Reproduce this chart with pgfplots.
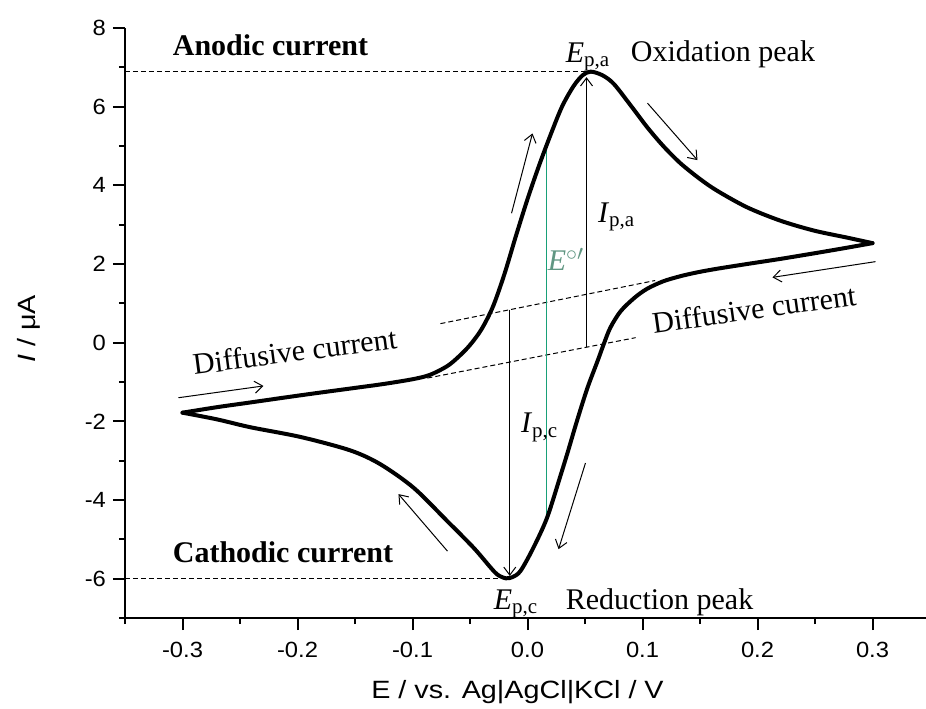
\documentclass[border=0pt]{standalone}
\usepackage{fontspec}
\setmainfont{Liberation Serif}
\newfontfamily\axsans[FakeStretch=1.15]{Liberation Sans}
\newfontfamily\ticksans[FakeStretch=1.08]{Liberation Sans}
\usepackage{pgfplots}
\pgfplotsset{compat=1.18}
\usepackage{pgfplotstable}
\usetikzlibrary{arrows.meta}

\definecolor{eogreen}{RGB}{24,160,120}
\definecolor{eotext}{RGB}{96,150,130}

\newcommand{\ann}{\fontsize{15}{18}\selectfont}
\tikzset{arr/.style={line width=0.5pt, -{Straight Barb[length=4pt,width=6pt]}}}

% forward (anodic) scan, -0.3 V -> +0.3 V
\pgfplotstableread{
E I
-0.300 -1.78
-0.270 -1.64
-0.241 -1.52
-0.210 -1.39
-0.183 -1.28
-0.150 -1.15
-0.125 -1.05
-0.100 -0.93
-0.085 -0.82
-0.070 -0.60
-0.060 -0.36
-0.050 -0.06
-0.040 0.34
-0.030 0.92
-0.020 1.75
-0.010 2.72
0.000 3.65
0.010 4.50
0.020 5.28
0.030 6.00
0.040 6.52
0.048 6.80
0.055 6.89
0.065 6.80
0.075 6.58
0.090 6.02
0.104 5.48
0.118 5.00
0.133 4.56
0.150 4.16
0.165 3.86
0.191 3.44
0.220 3.10
0.249 2.85
0.278 2.67
0.300 2.53
}\forwardscan

% reverse (cathodic) scan, +0.3 V -> -0.3 V
\pgfplotstableread{
E I
0.300 2.53
0.275 2.40
0.249 2.27
0.220 2.13
0.191 2.00
0.165 1.88
0.148 1.79
0.133 1.69
0.118 1.56
0.104 1.37
0.093 1.14
0.081 0.80
0.072 0.38
0.066 -0.06
0.061 -0.46
0.052 -1.16
0.043 -1.99
0.035 -2.78
0.029 -3.35
0.017 -4.45
0.005 -5.22
-0.006 -5.80
-0.013 -5.96
-0.019 -5.99
-0.026 -5.90
-0.032 -5.72
-0.047 -5.21
-0.070 -4.53
-0.099 -3.69
-0.128 -3.09
-0.154 -2.74
-0.197 -2.40
-0.241 -2.15
-0.270 -1.95
-0.300 -1.78
}\reversescan

\begin{document}
\begin{tikzpicture}
\begin{axis}[
  scale only axis,
  width=400.5pt, height=295pt,
  xmin=-0.35, xmax=0.3465,
  ymin=-7, ymax=8,
  axis lines*=left,
  axis line style={-, line width=1.1pt},
  tick align=outside,
  major tick length=6pt,
  minor tick length=3pt,
  every tick/.style={black, line width=1pt},
  xtick={-0.3,-0.2,-0.1,0,0.1,0.2,0.3},
  xticklabels={-0.3,-0.2,-0.1,0.0,0.1,0.2,0.3},
  minor xtick={-0.35,-0.25,-0.15,-0.05,0.05,0.15,0.25},
  ytick={-6,-4,-2,0,2,4,6,8},
  yticklabels={-6,-4,-2,0,2,4,6,8},
  minor ytick={-7,-5,-3,-1,1,3,5,7},
  ticklabel style={font=\ticksans\fontsize{11}{13}\selectfont},
  xticklabel style={yshift=-2.5pt},
  xlabel={E / vs. Ag|AgCl|KCl / V},
  ylabel={\textit{I} / μA},
  label style={font=\axsans\fontsize{12.5}{14}\selectfont},
  xlabel style={at={(axis description cs:0.49,-0.1356)}, anchor=base},
  ylabel style={at={(axis description cs:-0.12,0.49)}, anchor=center},
  clip=false,
]
\coordinate (axsw) at (rel axis cs:0,0);
\coordinate (axne) at (rel axis cs:1,1);

% peak current levels
\addplot[black, line width=0.5pt, dash pattern=on 2.5pt off 1.5pt] coordinates {(-0.35,6.89) (0.05,6.89)};
\addplot[black, line width=0.5pt, dash pattern=on 2.5pt off 1.5pt] coordinates {(-0.35,-6.0) (-0.019,-6.0)};
% extrapolated diffusive baselines
\addplot[black, line width=0.5pt, dash pattern=on 2.5pt off 1.5pt] coordinates {(-0.0757,0.484) (0.111,1.58)};
\addplot[black, line width=0.5pt, dash pattern=on 2.5pt off 1.5pt] coordinates {(-0.087,-0.90) (0.094,0.127)};
% formal potential
\addplot[eogreen, line width=0.7pt] coordinates {(0.0165,-4.45) (0.0165,5.07)};
% peak currents measured from the baselines
\addplot[black, line width=0.5pt, -{Straight Barb[length=4pt,width=6pt]}] coordinates {(0.0513,-0.117) (0.0513,6.75)};
\addplot[black, line width=0.5pt, -{Straight Barb[length=4pt,width=6pt]}] coordinates {(-0.0154,0.838) (-0.0154,-5.93)};

% scan direction arrows
\draw[arr] (axis cs:-0.3035,-1.40) -- (axis cs:-0.2296,-1.10);
\draw[arr] (axis cs:-0.0139,3.29) -- (axis cs:0.0043,5.32);
\draw[arr] (axis cs:0.1043,6.09) -- (axis cs:0.1478,4.64);
\draw[arr] (axis cs:0.3026,2.06) -- (axis cs:0.2130,1.66);
\draw[arr] (axis cs:0.0504,-3.06) -- (axis cs:0.0270,-5.25);
\draw[arr] (axis cs:-0.0696,-5.30) -- (axis cs:-0.1122,-3.85);

% voltammogram
\addplot[black, line width=2pt, smooth, line cap=round, line join=round] table[x=E, y=I] {\forwardscan};
\addplot[black, line width=2pt, smooth, line cap=round, line join=round] table[x=E, y=I] {\reversescan};

% annotations
\node[inner sep=0pt, anchor=base west, font=\ann\bfseries] at (axis cs:-0.3087,7.31) {Anodic current};
\node[inner sep=0pt, anchor=base west, font=\ann\bfseries] at (axis cs:-0.3087,-5.58) {Cathodic current};
\node[inner sep=0pt, anchor=base west, font=\ann] at (axis cs:0.033,7.13) {\textit{E}\textsubscript{p,a}};
\node[inner sep=0pt, anchor=base west, font=\ann] at (axis cs:0.0896,7.16) {Oxidation peak};
\node[inner sep=0pt, anchor=base west, font=\ann] at (axis cs:0.061,3.06) {\textit{I}\textsubscript{p,a}};
\node[inner sep=0pt, anchor=base west, font=\ann, text=eotext] at (axis cs:0.0174,1.83) {\textit{E}$^{\circ\prime}$};
\node[inner sep=0pt, anchor=base west, font=\ann, rotate=8] at (axis cs:0.1096,0.23) {Diffusive current};
\node[inner sep=0pt, anchor=base west, font=\ann, rotate=7.5] at (axis cs:-0.290,-0.82) {Diffusive current};
\node[inner sep=0pt, anchor=base west, font=\ann] at (axis cs:-0.006,-2.29) {\textit{I}\textsubscript{p,c}};
\node[inner sep=0pt, anchor=base west, font=\ann] at (axis cs:-0.0296,-6.78) {\textit{E}\textsubscript{p,c}};
\node[inner sep=0pt, anchor=base west, font=\ann] at (axis cs:0.033,-6.78) {Reduction peak};
\end{axis}
\pgfresetboundingbox
\path ([shift={(-62.5pt,-45pt)}]axsw) rectangle ([shift={(0pt,14pt)}]axne);
\end{tikzpicture}
\end{document}
